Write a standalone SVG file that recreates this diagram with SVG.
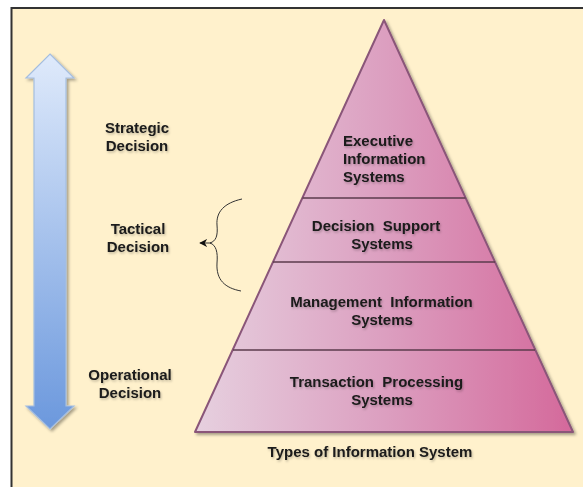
<svg xmlns="http://www.w3.org/2000/svg" width="583" height="487" viewBox="0 0 583 487">
  <defs>
    <linearGradient id="pyrFill" gradientUnits="userSpaceOnUse" x1="195" y1="0" x2="573" y2="0">
      <stop offset="0" stop-color="#e6d0df"/>
      <stop offset="0.5" stop-color="#dc9fc0"/>
      <stop offset="1" stop-color="#d4699b"/>
    </linearGradient>
    <linearGradient id="arrowFill" gradientUnits="userSpaceOnUse" x1="0" y1="54" x2="0" y2="429">
      <stop offset="0" stop-color="#dfeafb"/>
      <stop offset="1" stop-color="#6b98dd"/>
    </linearGradient>
    <filter id="shapeShadow" x="-10%" y="-10%" width="120%" height="120%">
      <feDropShadow dx="2" dy="2" stdDeviation="1.5" flood-color="#000" flood-opacity="0.35"/>
    </filter>
    <filter id="textShadow" x="-10%" y="-30%" width="120%" height="160%">
      <feDropShadow dx="1" dy="1.5" stdDeviation="0.8" flood-color="#000" flood-opacity="0.25"/>
    </filter>
    <marker id="tip" viewBox="0 0 10 10" refX="9" refY="5" markerWidth="8" markerHeight="8" orient="auto" markerUnits="userSpaceOnUse">
      <path d="M10,5 L0,0 L3,5 L0,10 Z" fill="#111"/>
    </marker>
    <style>
      .lbl { font-family: "Liberation Sans", Arial, sans-serif; font-size: 15px; font-weight: bold; fill: #1a1a1a; filter: url(#textShadow); white-space: pre; }
      .mid { text-anchor: middle; }
      .divider { stroke: #5b3b4d; stroke-width: 1.3; }
    </style>
  </defs>

  <!-- page background and frame -->
  <rect x="0" y="0" width="583" height="487" fill="#ffffff"/>
  <rect x="11.5" y="8" width="590" height="500" fill="#fff1cc" stroke="#333333" stroke-width="2"/>

  <!-- vertical double-headed decision arrow -->
  <g id="decision-arrow">
    <path d="M50,54 L74,78 L66,78 L66,406 L74,406 L50,429 L26,406 L34,406 L34,78 L26,78 Z"
          fill="url(#arrowFill)" stroke="#a5bedf" stroke-width="1.2" filter="url(#shapeShadow)"/>
  </g>

  <!-- decision level labels -->
  <g id="strategic">
    <text class="lbl mid" x="137" y="133">Strategic</text>
    <text class="lbl mid" x="137" y="151">Decision</text>
  </g>
  <g id="tactical">
    <text class="lbl mid" x="138" y="234">Tactical</text>
    <text class="lbl mid" x="138" y="252">Decision</text>
  </g>
  <g id="operational">
    <text class="lbl mid" x="130" y="380">Operational</text>
    <text class="lbl mid" x="130" y="398">Decision</text>
  </g>

  <!-- pyramid of information systems -->
  <g id="pyramid">
    <polygon points="384,20 573,432 195,432" fill="url(#pyrFill)" stroke="#8a5679" stroke-width="2" stroke-linejoin="round" filter="url(#shapeShadow)"/>
    <line class="divider" x1="302.5" y1="198" x2="465.5" y2="198"/>
    <line class="divider" x1="273" y1="262" x2="495" y2="262"/>
    <line class="divider" x1="233" y1="350" x2="535" y2="350"/>
  </g>

  <g id="eis">
    <text class="lbl" x="343" y="146">Executive</text>
    <text class="lbl" x="343" y="164">Information</text>
    <text class="lbl" x="343" y="182">Systems</text>
  </g>
  <g id="dss">
    <text class="lbl mid" x="376" y="231">Decision  Support</text>
    <text class="lbl mid" x="382" y="249">Systems</text>
  </g>
  <g id="mis">
    <text class="lbl mid" x="381.5" y="307">Management  Information</text>
    <text class="lbl mid" x="382" y="325">Systems</text>
  </g>
  <g id="tps">
    <text class="lbl mid" x="376.5" y="387">Transaction  Processing</text>
    <text class="lbl mid" x="382" y="405">Systems</text>
  </g>

  <g id="caption">
    <text class="lbl mid" x="370" y="457">Types of Information System</text>
  </g>

  <!-- brace pointing to the tactical label -->
  <g id="connectors" fill="none" stroke="#333" stroke-width="1">
    <path d="M242,199 C224,203 216,212 217,225 C218,236 216,241 210,243"/>
    <path d="M210,243 C216,245 218,252 217,263 C216,280 225,288 241,291"/>
    <line x1="211" y1="243" x2="200" y2="243" marker-end="url(#tip)"/>
  </g>
</svg>
